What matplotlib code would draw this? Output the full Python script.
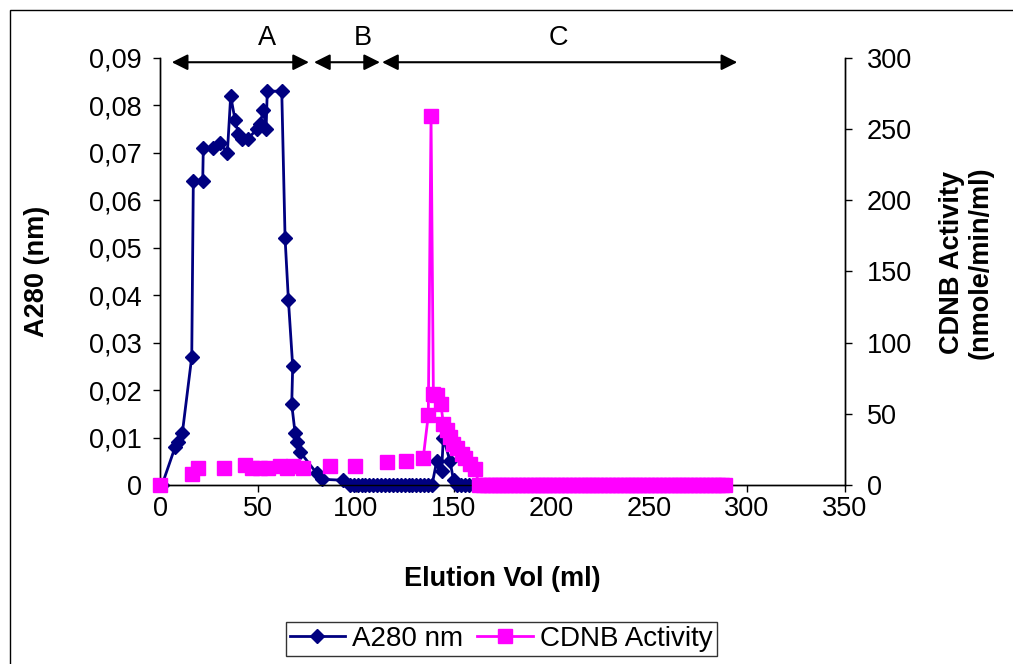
import matplotlib
matplotlib.use("Agg")
import matplotlib.pyplot as plt
from matplotlib.patches import Rectangle
from matplotlib.ticker import FuncFormatter
import numpy as np

plt.rcParams['font.family'] = ['Liberation Sans', 'DejaVu Sans']

# A280 absorbance (left axis)
a280_vol = [1, 7.7, 9.4, 11.4, 16.2, 17.0, 21.8, 22.1, 26.9, 30.7, 34.4, 36.1,
            38.3, 40.0, 41.7, 45.1, 49.4, 51.0, 52.8, 54.2, 54.8, 62.2, 63.9,
            65.6, 67.8, 67.3, 69.0, 69.8, 71.5, 80.0, 83.0, 93.5,
            97, 99, 101, 103, 105, 107, 109, 111, 113, 115, 117, 119, 121,
            123, 125, 127, 129, 131, 133, 135, 137, 139,
            141.4, 143.9, 144.8, 148.2, 150, 152, 154, 156, 158]
a280 = [0, 0.008, 0.009, 0.011, 0.027, 0.064, 0.064, 0.071, 0.071, 0.072, 0.070, 0.082,
        0.077, 0.074, 0.073, 0.073, 0.075, 0.076, 0.079, 0.075, 0.083, 0.083, 0.052,
        0.039, 0.025, 0.017, 0.011, 0.009, 0.007, 0.0025, 0.0012, 0.001,
        0, 0, 0, 0, 0, 0, 0, 0, 0, 0, 0, 0, 0,
        0, 0, 0, 0, 0, 0, 0, 0, 0,
        0.005, 0.003, 0.010, 0.005, 0.001, 0, 0, 0, 0]

# CDNB activity (right axis); nan = blank cell, breaks the line
cdnb_vol = [0, 8, 16.2, 19.6, 26, 32.7, 38, 43.4, 46.8, 51.0, 55.4, 61.3, 64.7,
            68.0, 73.2, 80, 86.9, 93, 99.6, 108, 116, 121, 125.7, 130,
            134.5, 137.1, 138.5, 139.7, 141.5, 143.5, 144.8, 146.5, 148.2,
            149.9, 151.6, 154.2, 155.9, 158.4, 161.0,
            163, 165, 167, 169, 171, 173, 175, 177, 179, 181, 183, 185, 187,
            189, 191, 193, 195, 197, 199, 201, 203, 205, 207, 209, 211, 213,
            215, 217, 219, 221, 223, 225, 227, 229, 231, 233, 235, 237, 239,
            241, 243, 245, 247, 249, 251, 253, 255, 257, 259, 261, 263, 265,
            267, 269, 271, 273, 275, 277, 279, 281, 283, 285, 287, 289]
nan = np.nan
cdnb = [0, nan, 8, 12, nan, 12, nan, 14, 12, 12, 12, 13, 12,
        13, 12, nan, 13, nan, 13, nan, 16, nan, 16.5, nan,
        19, 49, 259, 64, 63, 57, 43, 38.5, 34,
        29, 26, 22, 19, 15, 11.5,
        0, 0, 0, 0, 0, 0, 0, 0, 0, 0, 0, 0, 0,
        0, 0, 0, 0, 0, 0, 0, 0, 0, 0, 0, 0, 0,
        0, 0, 0, 0, 0, 0, 0, 0, 0, 0, 0, 0, 0,
        0, 0, 0, 0, 0, 0, 0, 0, 0, 0, 0, 0, 0,
        0, 0, 0, 0, 0, 0, 0, 0, 0, 0, 0, 0]

# pooled regions marked above the plot
regions = ["A", "B", "C"]
region_start = [6.0, 78.7, 113.5]
region_end = [76.1, 112.4, 295.0]
region_label_x = [54.7, 103.7, 203.4]

navy = "#000080"
magenta = "#FF00FF"
fs = 19.5

fig = plt.figure(figsize=(10.13, 6.64), dpi=100)
ax = fig.add_axes([0.158, 0.2696, 0.676, 0.6431])
ax2 = ax.twinx()

l1, = ax.plot(a280_vol, a280, color=navy, lw=2, marker="D", ms=7.5,
              label="A280 nm", clip_on=False, zorder=3)
l2, = ax2.plot(cdnb_vol, cdnb, color=magenta, lw=2, marker="s", ms=9.5,
               label="CDNB Activity", clip_on=False, zorder=3)

ax.set_xlim(0, 350)
ax.set_ylim(0, 0.09)
ax2.set_ylim(0, 300)
ax.set_xticks(np.arange(0, 351, 50))
ax.set_yticks(np.arange(0, 0.0901, 0.01))
ax2.set_yticks(np.arange(0, 301, 50))

ax.yaxis.set_major_formatter(FuncFormatter(
    lambda v, p: "0" if abs(v) < 1e-9 else f"{v:.2f}".replace(".", ",")))

for a in (ax, ax2):
    a.spines["top"].set_visible(False)
    for s in a.spines.values():
        s.set_color("black")
        s.set_linewidth(1)
    a.tick_params(labelsize=fs, direction="out", length=5, width=1, pad=8)
ax.tick_params(axis="x", pad=3)
ax2.tick_params(axis="y", pad=11)

ax.set_xlabel("Elution Vol (ml)", fontsize=fs, fontweight="bold")
ax.xaxis.set_label_coords(0.5, -0.19)
ax.set_ylabel("A280 (nm)", fontsize=fs, fontweight="bold")
ax.yaxis.set_label_coords(-0.16, 0.5)
ax2.set_ylabel("CDNB Activity\n(nmole/min/ml)", fontsize=fs, fontweight="bold",
               rotation=90, linespacing=1.1)
ax2.yaxis.set_label_coords(1.138, 0.52)

# region arrows
for name, x0, x1, xl in zip(regions, region_start, region_end, region_label_x):
    ax.annotate("", xy=(x0, 0.0891), xytext=(x1, 0.0891), xycoords="data",
                arrowprops=dict(arrowstyle="<|-|>", color="black", lw=1.5,
                                mutation_scale=24, shrinkA=0, shrinkB=0),
                annotation_clip=False)
    ax.text(xl, 0.0943, name, ha="center", va="center", fontsize=fs,
            clip_on=False)

leg = fig.legend(handles=[l1, l2], loc="center", ncol=2,
                 bbox_to_anchor=(0.4946, 0.0377), fontsize=20,
                 frameon=True, fancybox=False, edgecolor="black",
                 handlelength=2.0, columnspacing=0.5, handletextpad=0.25,
                 borderpad=0.15, borderaxespad=0)
leg.get_frame().set_linewidth(1)

# outer chart border (cut off at right and bottom)
fig.patches.append(Rectangle((0.0099, -0.1), 1.2, 1.085, transform=fig.transFigure,
                             fill=False, edgecolor="black", lw=1))

fig.savefig("out.png", dpi=100)
